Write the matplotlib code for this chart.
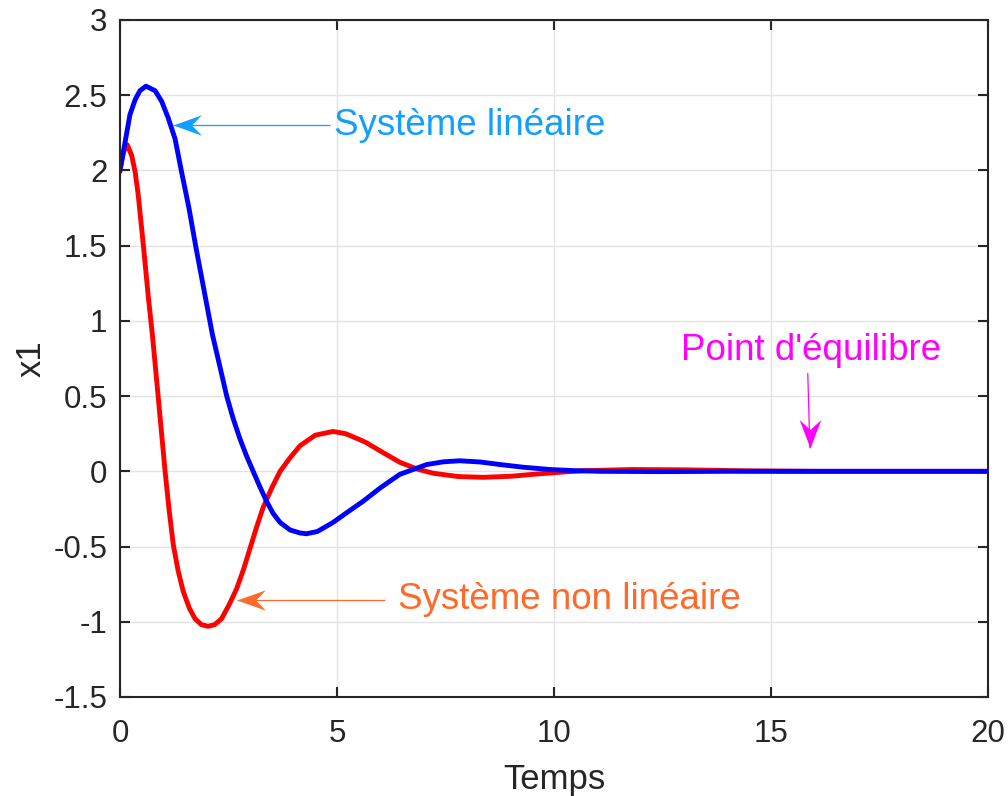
import matplotlib
matplotlib.use('Agg')
import matplotlib.pyplot as plt
from matplotlib.path import Path

plt.rcParams['font.family'] = ['Liberation Sans', 'DejaVu Sans']

# Values
t_lin = [0, 0.12, 0.23, 0.35, 0.46, 0.60, 0.81, 0.96, 1.11, 1.27, 1.42, 1.59, 1.75,
         1.94, 2.13, 2.30, 2.46, 2.61, 2.76, 2.92, 3.07, 3.22, 3.38, 3.53, 3.69,
         3.92, 4.15, 4.30, 4.55, 4.91, 5.25, 5.60, 6.00, 6.45, 7.07, 7.45, 7.83,
         8.30, 8.76, 9.30, 9.91, 10.5, 11.06, 12.5, 14.0, 16.0, 18.0, 20.0]
x1_lin = [2.00, 2.19, 2.37, 2.47, 2.53, 2.56, 2.53, 2.46, 2.35, 2.21, 1.99, 1.75, 1.49,
          1.20, 0.91, 0.70, 0.50, 0.35, 0.22, 0.10, 0.00, -0.10, -0.20, -0.28, -0.34,
          -0.39, -0.41, -0.415, -0.40, -0.34, -0.27, -0.20, -0.11, -0.02, 0.045, 0.063, 0.07,
          0.062, 0.045, 0.027, 0.012, 0.004, 0.0, -0.002, 0.0, 0.0, 0.0, 0.0]

t_nl = [0, 0.08, 0.17, 0.27, 0.35, 0.42, 0.54, 0.65, 0.75, 0.88, 0.96, 1.04, 1.13,
        1.23, 1.34, 1.46, 1.60, 1.73, 1.88, 2.03, 2.18, 2.34, 2.51, 2.69, 2.85,
        3.00, 3.15, 3.30, 3.50, 3.69, 3.92, 4.15, 4.50, 4.91, 5.20, 5.53, 5.68,
        6.00, 6.45, 6.85, 7.22, 7.80, 8.37, 9.00, 9.52, 10.1, 10.68, 11.8, 13.0,
        14.5, 16.0, 18.0, 20.0]
x1_nl = [2.00, 2.12, 2.17, 2.10, 1.99, 1.84, 1.50, 1.17, 0.90, 0.50, 0.25, 0.00, -0.25,
         -0.49, -0.66, -0.80, -0.91, -0.98, -1.02, -1.03, -1.02, -0.98, -0.89, -0.78, -0.65,
         -0.51, -0.37, -0.24, -0.11, 0.00, 0.09, 0.17, 0.24, 0.265, 0.25, 0.21, 0.19,
         0.135, 0.06, 0.015, -0.013, -0.035, -0.04, -0.033, -0.02, -0.007, 0.004, 0.012, 0.01,
         0.003, 0.0, 0.0, 0.0]

xticks = [0, 5, 10, 15, 20]
yticks = [-1.5, -1, -0.5, 0, 0.5, 1, 1.5, 2, 2.5, 3]
ytick_labels = ['-1.5', '-1', '-0.5', '0', '0.5', '1', '1.5', '2', '2.5', '3']

fig = plt.figure(figsize=(10.08, 7.96), dpi=100)
ax = fig.add_axes([0.119, 0.1244, 0.861, 0.8505])

ax.plot(t_nl, x1_nl, color='#FF0000', lw=3.5, solid_joinstyle='round')
ax.plot(t_lin, x1_lin, color='#0000FF', lw=3.5, solid_joinstyle='round')

ax.set_xlim(0, 20)
ax.set_ylim(-1.5, 3)
ax.set_xticks(xticks)
ax.set_yticks(yticks)
ax.set_yticklabels(ytick_labels)
ax.grid(True, color='#E3E3E3', lw=1.0)
ax.set_axisbelow(True)

for s in ax.spines.values():
    s.set_color('#262626')
    s.set_linewidth(1.5)
ax.tick_params(direction='in', length=7, width=1.5, color='#262626',
               top=True, right=True, labelsize=22.5, labelcolor='#262626')
ax.tick_params(axis='x', pad=16)
ax.tick_params(axis='y', pad=9)

ax.set_xlabel('Temps', fontsize=25, color='#262626', labelpad=10)
ax.set_ylabel('x1', fontsize=25, color='#262626', labelpad=4)

# swept arrow heads (MATLAB "vback2"), tip at the origin
head_left = Path([(0, 0), (1, 0.36), (0.65, 0), (1, -0.36), (0, 0)],
                 [Path.MOVETO, Path.LINETO, Path.LINETO, Path.LINETO, Path.CLOSEPOLY])
head_down = Path([(0, 0), (0.38, 1), (0, 0.65), (-0.38, 1), (0, 0)],
                 [Path.MOVETO, Path.LINETO, Path.LINETO, Path.LINETO, Path.CLOSEPOLY])


def arrow(x0, y0, x1, y1, color, head):
    ax.plot([x0, x1], [y0, y1], color=color, lw=0.9, solid_capstyle='butt')
    ax.plot([x1], [y1], marker=head, markersize=41, color=color, mew=0,
            linestyle='none')


blue_txt = '#129FFF'
orange_txt = '#FF6929'
magenta = '#FF00FF'

ax.text(4.93, 2.30, 'Système linéaire', fontsize=26.5, color=blue_txt,
        va='center', ha='left')
arrow(4.85, 2.30, 1.22, 2.30, blue_txt, head_left)

ax.text(6.41, -0.853, 'Système non linéaire', fontsize=26.5, color=orange_txt,
        va='center', ha='left')
arrow(6.10, -0.853, 2.70, -0.853, orange_txt, head_left)

ax.text(12.93, 0.80, "Point d'équilibre", fontsize=26.5, color=magenta,
        va='center', ha='left')
arrow(15.85, 0.653, 15.9, 0.153, magenta, head_down)

fig.savefig('out.png', dpi=100)
plt.close(fig)
